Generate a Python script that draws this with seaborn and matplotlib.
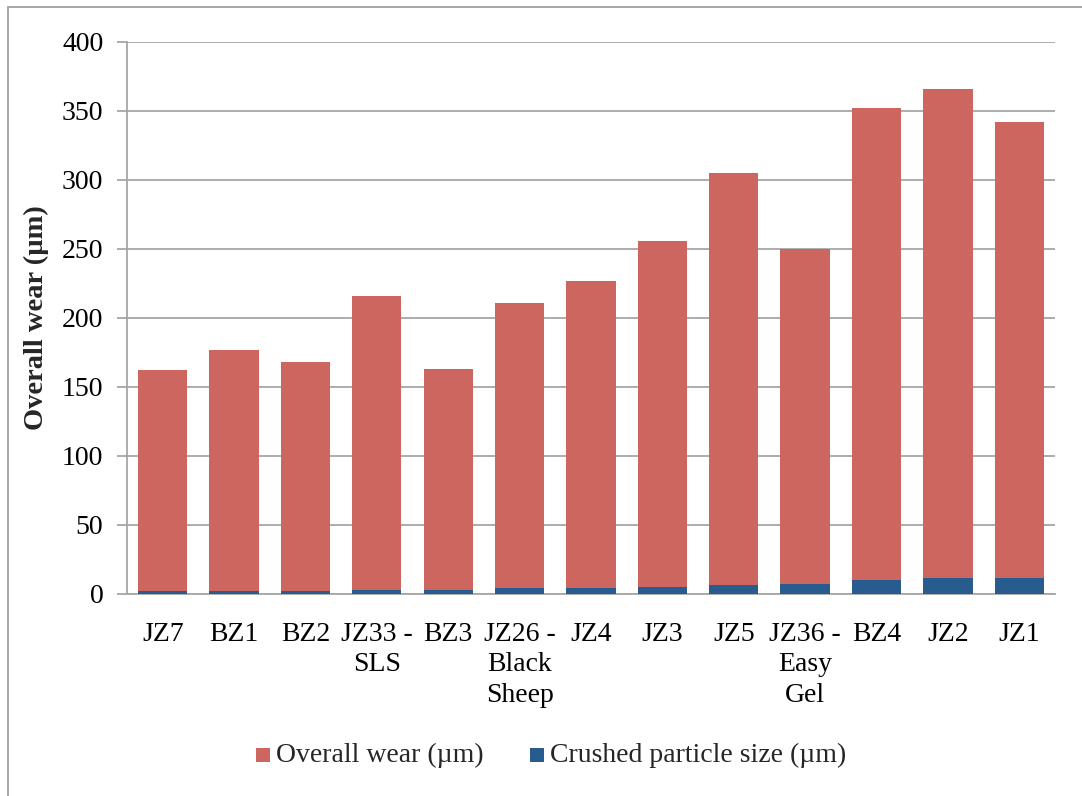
import matplotlib
matplotlib.use("Agg")
import matplotlib.pyplot as plt
import seaborn as sns
import pandas as pd
from matplotlib.patches import Rectangle

categories = ["JZ7", "BZ1", "BZ2", "JZ33 -\nSLS", "BZ3", "JZ26 -\nBlack\nSheep", "JZ4",
              "JZ3", "JZ5", "JZ36 -\nEasy\nGel", "BZ4", "JZ2", "JZ1"]
overall_wear = [162, 177, 168, 216, 163, 211, 227, 256, 305, 250, 352, 366, 342]
crushed_size = [2.2, 2.2, 2.5, 3.0, 3.0, 4.5, 4.5, 5.0, 6.8, 7.5, 10.4, 11.6, 11.8]
series_names = ["Overall wear (\u00b5m)", "Crushed particle size (\u00b5m)"]
colors = ["#CC665F", "#285C8F"]
yticks = [0, 50, 100, 150, 200, 250, 300, 350, 400]

df = pd.DataFrame({
    "cat": categories * 2,
    "value": overall_wear + crushed_size,
    "series": [series_names[0]] * len(categories) + [series_names[1]] * len(categories),
})

sns.set_theme(style="white")
plt.rcParams["font.family"] = ["Liberation Serif", "DejaVu Serif"]

fig = plt.figure(figsize=(10.82, 7.96), dpi=100)
ax = fig.add_axes([0.1174, 0.2538, 0.8576, 0.6935])

sns.barplot(data=df, x="cat", y="value", hue="series", order=categories,
            hue_order=series_names, palette=colors, dodge=False, width=0.69,
            saturation=1, errorbar=None, legend=False, ax=ax, zorder=3)
for p in ax.patches:
    p.set_edgecolor("none")

grid_c = "#A6A6A6"
ax.set_ylim(0, 400)
ax.set_xlim(-0.5, len(categories) - 0.5)
ax.set_yticks(yticks)
ax.yaxis.grid(True, color=grid_c, linewidth=1.3, zorder=0)
ax.set_axisbelow(True)
for s in ["top", "right"]:
    ax.spines[s].set_visible(False)
for s in ["left", "bottom"]:
    ax.spines[s].set_color(grid_c)
    ax.spines[s].set_linewidth(1.3)
ax.tick_params(axis="y", which="major", left=True, length=7, width=1.3,
               color=grid_c, labelsize=20, pad=10, labelcolor="black")
ax.tick_params(axis="x", bottom=False, labelsize=20, pad=14, labelcolor="black")
for t in ax.get_xticklabels():
    t.set_linespacing(1.3)
ax.set_xlabel("")
ax.set_ylabel("Overall wear (\u00b5m)", fontsize=20.5, fontweight="bold", labelpad=9)

# chart frame (open at the bottom and right)
fig.patches.append(Rectangle((8 / 1082, -0.1), 1.2, 1.1 - 7 / 796,
                             transform=fig.transFigure, fill=False,
                             edgecolor="#A0A0A0", linewidth=1.3))

# legend
leg_y = 1 - 755 / 796
items = [(256 / 1082, series_names[0], colors[0]), (530 / 1082, series_names[1], colors[1])]
for x0, label, c in items:
    fig.patches.append(Rectangle((x0, 1 - 762 / 796), 14 / 1082, 14 / 796,
                                 transform=fig.transFigure, facecolor=c, edgecolor="none"))
    fig.text(x0 + 20 / 1082, leg_y, label, fontsize=20, va="center", ha="left")

fig.savefig("out.png", dpi=100)
